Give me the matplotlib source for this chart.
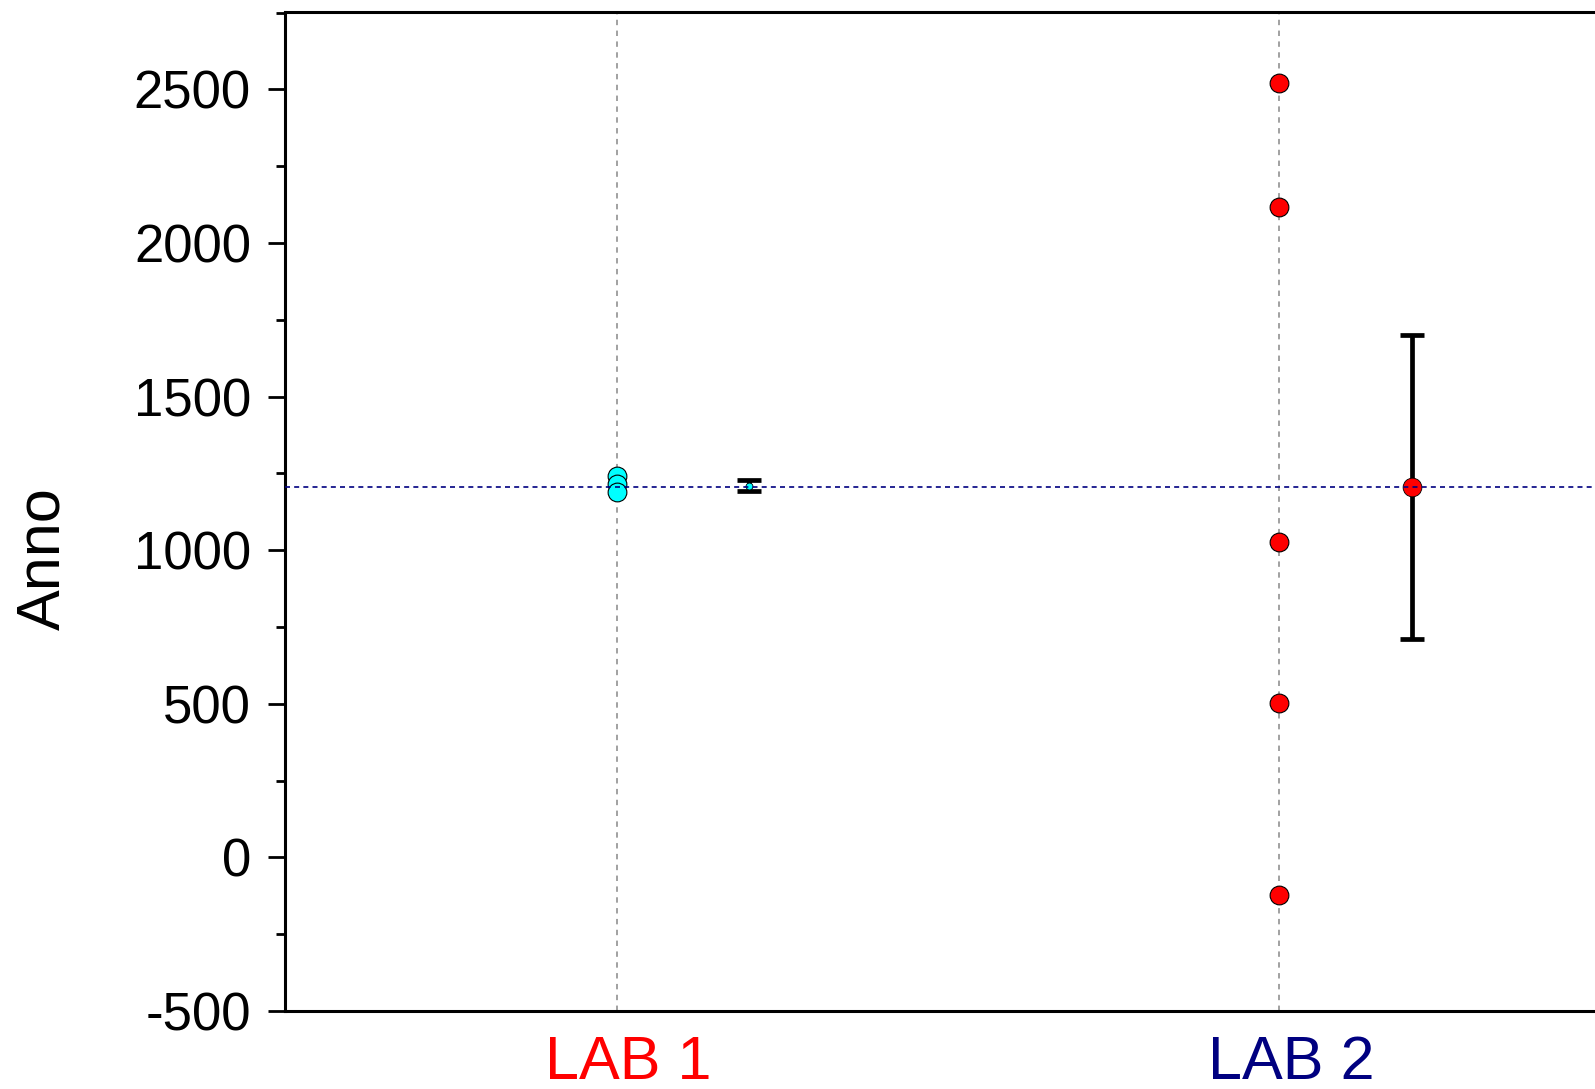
import matplotlib
matplotlib.use("Agg")
import matplotlib.pyplot as plt
import matplotlib.transforms as mtransforms
from matplotlib.ticker import MultipleLocator

plt.rcParams['font.family'] = ['Liberation Sans', 'DejaVu Sans']
plt.rcParams['axes.unicode_minus'] = False

# Data
categories = ["LAB 1", "LAB 2"]
category_colors = ["#ff0000", "#000080"]
lab1_values = [1240, 1215, 1188]
lab2_values = [2522, 2118, 1027, 504, -121]
mean_values = [1210, 1207]
mean_errors = [18, 495]
reference_value = 1205
y_ticks = [-500, 0, 500, 1000, 1500, 2000, 2500]

W, H = 1595, 1089
fig = plt.figure(figsize=(W / 100, H / 100), dpi=100)
ax = fig.add_axes([285 / W, 1 - 1011 / H, 1326 / W, (1011 - 12) / H])

ax.set_xlim(0.5, 2.5)
ax.set_ylim(-500, 2752)

# vertical dotted guide lines at categories
for xc in (1, 2):
    ax.axvline(xc, color="#9a9a9a", lw=1.3, ls=(0, (3, 3)), zorder=1)

ax.scatter([1] * len(lab1_values), lab1_values, s=13.5 ** 2, c="#00ffff",
           edgecolors="black", linewidths=0.8, zorder=3)
ax.scatter([2] * len(lab2_values), lab2_values, s=13.5 ** 2, c="#ff0000",
           edgecolors="black", linewidths=0.8, zorder=3)

mean_colors = ["#00ffff", "#ff0000"]
for i, (m, e) in enumerate(zip(mean_values, mean_errors)):
    xm = i + 1 + 0.2
    ax.errorbar([xm], [m], yerr=[e], fmt="none", ecolor="black",
                elinewidth=3.4, capsize=8.3, capthick=3.4, zorder=4)
    ms = 13.5 if i == 1 else 5
    ax.plot([xm], [m], "o", ms=ms, mfc=mean_colors[i], mec="black",
            mew=0.6, zorder=5)

ax.axhline(reference_value, color="#000080", lw=1.2, ls=(0, (3, 2.5)), zorder=6)

# category labels below the axis
ax.set_xticks([1, 2])
ax.set_xticklabels([])
ax.tick_params(axis="x", length=0)
trans = ax.get_xaxis_transform() + mtransforms.ScaledTranslation(
    12 / 100, 2 / 100, fig.dpi_scale_trans)
for i, (lab, c) in enumerate(zip(categories, category_colors)):
    ax.text(i + 1, -0.0701, lab, color=c, fontsize=44, ha="center",
            va="baseline", transform=trans, clip_on=False)

ax.set_yticks(y_ticks)
ax.yaxis.set_minor_locator(MultipleLocator(250))
ax.tick_params(axis="y", which="major", direction="out", length=12.5,
               width=2, labelsize=38, pad=12)
ax.tick_params(axis="y", which="minor", direction="out", length=6.5, width=2)
ax.set_ylabel("Anno", fontsize=44)
ax.yaxis.set_label_coords(-0.1606, 0.4525)

for s in ax.spines.values():
    s.set_linewidth(2.2)

fig.savefig("out.png", dpi=100)
